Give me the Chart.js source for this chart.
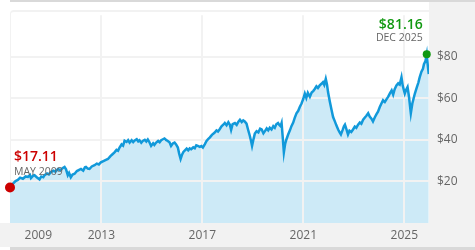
<!DOCTYPE html>
<html>
<head>
<meta charset="utf-8">
<script src="https://cdn.jsdelivr.net/npm/chart.js@4.4.1/dist/chart.umd.min.js"></script>
<style>
  body { margin: 0; background: #fff; }
  #wrap { position: relative; width: 475px; height: 250px; overflow: hidden; }
  .band { position: absolute; }
  .top-line { left: 10px; top: 0; width: 465px; height: 2px; background: #d9d9d9; }
  .right-panel { left: 429px; top: 2px; width: 46px; height: 245px; background: #f2f2f2; }
  .bottom-panel { left: 0; top: 223px; width: 475px; height: 24px; background: #f2f2f2; }
  .bottom-line { left: 10px; top: 247px; width: 465px; height: 3px; background: #d9d9d9; }
  .plot-frame { left: 10px; top: 10px; width: 419px; height: 213px; box-sizing: border-box;
    border-top: 2px solid #f2f2f2; border-left: 1px solid #f2f2f2; border-top-left-radius: 4px; }
  #priceChart { position: absolute; left: 0; top: 0; }
</style>
</head>
<body>
<div id="wrap">
  <div class="band top-line"></div>
  <div class="band right-panel"></div>
  <div class="band bottom-panel"></div>
  <div class="band bottom-line"></div>
  <div class="band plot-frame"></div>
  <canvas id="priceChart" width="475" height="250"></canvas>
</div>
<script>
// price history (decimal years)
const years = [
  2009.38, 2009.50, 2009.60, 2009.69, 2009.78, 2009.89, 2010.00, 2010.09, 2010.17, 2010.21,
  2010.30, 2010.35, 2010.45, 2010.55, 2010.62, 2010.70, 2010.75, 2010.85, 2010.92, 2011.00,
  2011.10, 2011.18, 2011.28, 2011.38, 2011.46, 2011.54, 2011.60, 2011.67, 2011.72, 2011.79,
  2011.86, 2011.94, 2012.03, 2012.12, 2012.19, 2012.28, 2012.35, 2012.39, 2012.46, 2012.53,
  2012.62, 2012.73, 2012.82, 2012.90, 2012.98, 2013.08, 2013.18, 2013.26, 2013.36, 2013.44,
  2013.52, 2013.60, 2013.66, 2013.72, 2013.80, 2013.86, 2013.92, 2014.00, 2014.06, 2014.12,
  2014.20, 2014.26, 2014.31, 2014.40, 2014.46, 2014.51, 2014.58, 2014.64, 2014.72, 2014.78,
  2014.84, 2014.90, 2014.97, 2015.05, 2015.10, 2015.17, 2015.25, 2015.31, 2015.37, 2015.44,
  2015.50, 2015.56, 2015.63, 2015.70, 2015.76, 2015.83, 2015.90, 2015.96, 2016.03, 2016.08,
  2016.14, 2016.20, 2016.25, 2016.30, 2016.38, 2016.44, 2016.50, 2016.56, 2016.64, 2016.70,
  2016.76, 2016.82, 2016.90, 2016.96, 2017.02, 2017.10, 2017.16, 2017.22, 2017.30, 2017.38,
  2017.48, 2017.56, 2017.62, 2017.68, 2017.76, 2017.84, 2017.89, 2017.96, 2018.03, 2018.09,
  2018.14, 2018.20, 2018.29, 2018.36, 2018.43, 2018.49, 2018.56, 2018.62, 2018.68, 2018.75,
  2018.81, 2018.88, 2018.93, 2018.97, 2019.03, 2019.08, 2019.15, 2019.22, 2019.29, 2019.35,
  2019.42, 2019.48, 2019.55, 2019.61, 2019.67, 2019.74, 2019.81, 2019.87, 2019.93, 2020.00,
  2020.05, 2020.10, 2020.14, 2020.18, 2020.23, 2020.28, 2020.33, 2020.40, 2020.47, 2020.53,
  2020.60, 2020.66, 2020.73, 2020.80, 2020.86, 2020.93, 2021.00, 2021.06, 2021.12, 2021.18,
  2021.26, 2021.33, 2021.40, 2021.46, 2021.52, 2021.58, 2021.65, 2021.72, 2021.78, 2021.83,
  2021.89, 2021.94, 2021.98, 2022.05, 2022.12, 2022.18, 2022.25, 2022.31, 2022.38, 2022.44,
  2022.49, 2022.56, 2022.61, 2022.65, 2022.71, 2022.77, 2022.83, 2022.90, 2022.97, 2023.04,
  2023.10, 2023.17, 2023.24, 2023.30, 2023.37, 2023.44, 2023.50, 2023.57, 2023.63, 2023.70,
  2023.76, 2023.83, 2023.90, 2023.96, 2024.03, 2024.10, 2024.16, 2024.23, 2024.30, 2024.36,
  2024.43, 2024.50, 2024.56, 2024.62, 2024.69, 2024.76, 2024.82, 2024.89, 2024.94, 2025.02,
  2025.07, 2025.13, 2025.19, 2025.26, 2025.32, 2025.42, 2025.50, 2025.56, 2025.61, 2025.68,
  2025.74, 2025.78, 2025.84, 2025.89, 2025.93, 2025.97
];
const prices = [
  17.11, 19.0, 20.2, 20.7, 21.8, 21.3, 22.4, 22.2, 23.1, 21.6,
  22.8, 23.0, 21.9, 21.0, 22.4, 22.0, 23.0, 23.8, 23.4, 24.5,
  25.2, 24.7, 26.0, 25.4, 26.4, 27.0, 25.8, 23.0, 24.1, 22.0,
  23.3, 23.7, 25.0, 25.6, 26.0, 25.2, 26.8, 27.0, 26.2, 26.0,
  27.2, 27.8, 28.6, 28.2, 29.2, 29.8, 30.4, 30.8, 32.2, 33.1,
  34.0, 35.2, 34.8, 36.3, 37.8, 37.2, 39.6, 39.0, 39.9, 38.7,
  39.8, 38.9, 39.6, 40.3, 39.3, 39.8, 38.6, 39.5, 40.0, 39.2,
  40.2, 39.0, 37.1, 38.4, 37.6, 38.7, 39.5, 38.9, 39.8, 40.3,
  40.7, 40.0, 39.5, 38.8, 37.1, 38.3, 38.7, 37.8, 36.3, 33.5,
  30.8, 33.0, 34.2, 34.8, 35.8, 35.0, 35.9, 35.5, 36.4, 36.0,
  37.4, 37.1, 36.6, 37.0, 36.3, 38.0, 39.4, 40.2, 41.2, 42.4,
  43.4, 44.5, 44.0, 45.0, 46.5, 47.4, 48.1, 47.0, 48.5, 47.3,
  44.8, 47.6, 48.1, 47.2, 48.8, 49.7, 48.6, 49.4, 48.9, 47.8,
  45.0, 42.0, 39.5, 37.1, 40.5, 43.0, 44.2, 43.6, 45.4, 45.0,
  43.2, 44.2, 45.5, 44.6, 45.8, 45.0, 46.6, 45.8, 47.5, 48.1,
  47.2, 46.6, 48.1, 42.0, 34.0, 38.0, 40.2, 42.6, 44.6, 46.6,
  48.3, 50.6, 52.8, 54.0, 55.8, 57.5, 59.8, 62.3, 60.2, 62.6,
  60.7, 62.8, 63.6, 64.6, 65.8, 65.0, 66.2, 67.0, 67.8, 66.5,
  69.3, 66.5, 63.0, 58.5, 54.4, 51.0, 48.9, 47.0, 45.0, 43.6,
  42.6, 44.8, 46.5, 47.3, 45.0, 42.6, 44.4, 43.8, 45.0, 46.4,
  45.8, 47.3, 48.4, 47.8, 49.7, 50.8, 51.6, 52.8, 51.2, 50.2,
  48.9, 50.8, 52.4, 53.6, 55.8, 57.6, 59.1, 58.2, 59.6, 60.7,
  62.4, 63.8, 61.8, 64.4, 66.2, 67.2, 66.6, 70.1, 66.0, 62.3,
  64.0, 65.4, 60.5, 52.8, 57.5, 62.3, 65.4, 67.6, 70.1, 72.8,
  74.2, 76.4, 78.0, 81.16, 76.0, 71.7
];

// low / high markers
const extremeYears = [2009.38, 2025.89];
const extremePrices = [17.11, 81.16];
const extremeLabels = ['$17.11', '$81.16'];
const extremeDates = ['MAY 2009', 'DEC 2025'];
const extremeColors = ['#cc0000', '#119911'];

// axes
const xTickValues = [2010.5, 2013, 2017, 2021, 2025];
const xTickLabels = ['2009', '2013', '2017', '2021', '2025'];
const yTickValues = [20, 40, 60, 80];

const FONT = '"Open Sans", "DejaVu Sans", sans-serif';

const extremeTextPlugin = {
    id: 'extremeText',
    afterDatasetsDraw(chart) {
        const { ctx, scales } = chart;
        ctx.save();
        extremeYears.forEach((yr, i) => {
            const px = scales.x.getPixelForValue(yr);
            const py = scales.y.getPixelForValue(extremePrices[i]);
            const first = i === 0;
            ctx.textAlign = first ? 'left' : 'right';
            const tx = first ? px + 4 : px - 4;
            ctx.fillStyle = extremeColors[i];
            ctx.font = '600 14px ' + FONT;
            ctx.fillText(extremeLabels[i], tx, first ? py - 26 : py - 25);
            ctx.fillStyle = '#666';
            ctx.font = '10.5px ' + FONT;
            ctx.fillText(extremeDates[i], tx, first ? py - 12 : py - 13);
        });
        ctx.restore();
    }
};

new Chart(document.getElementById('priceChart'), {
    type: 'line',
    data: {
        datasets: [{
            data: years.map((x, i) => ({ x, y: prices[i] })),
            borderColor: '#1199da',
            backgroundColor: '#cdeaf7',
            borderWidth: 2.5,
            fill: 'start',
            pointRadius: 0,
            tension: 0,
            order: 1
        }, {
            data: extremeYears.map((x, i) => ({ x, y: extremePrices[i] })),
            showLine: false,
            pointRadius: [5, 4],
            pointBackgroundColor: extremeColors,
            pointBorderWidth: 0,
            clip: false,
            order: 0
        }]
    },
    options: {
        responsive: false,
        animation: false,
        layout: { padding: { left: 10, top: 10 } },
        plugins: {
            legend: { display: false },
            tooltip: { enabled: false },
            filler: { drawTime: 'beforeDraw' }
        },
        scales: {
            x: {
                type: 'linear',
                min: 2009.38,
                max: 2025.98,
                afterFit: s => { s.height = 27; },
                afterBuildTicks: s => { s.ticks = xTickValues.map(v => ({ value: v })); },
                ticks: {
                    callback: (v, i) => xTickLabels[i],
                    color: '#666',
                    font: { size: 12, family: FONT },
                    padding: 5,
                    maxRotation: 0,
                    autoSkip: false
                },
                grid: {
                    color: c => c.index === 0 ? 'rgba(0,0,0,0)' : '#f2f2f2',
                    lineWidth: 2,
                    drawTicks: false
                },
                border: { display: false }
            },
            y: {
                position: 'right',
                min: 0,
                max: 100,
                afterFit: s => { s.width = 46; },
                afterBuildTicks: s => { s.ticks = yTickValues.map(v => ({ value: v })); },
                ticks: {
                    callback: v => '$' + v,
                    color: '#666',
                    font: { size: 12, family: FONT },
                    padding: 8
                },
                grid: { color: '#f2f2f2', lineWidth: 2, drawTicks: false },
                border: { display: false }
            }
        }
    },
    plugins: [extremeTextPlugin]
});
</script>
</body>
</html>
